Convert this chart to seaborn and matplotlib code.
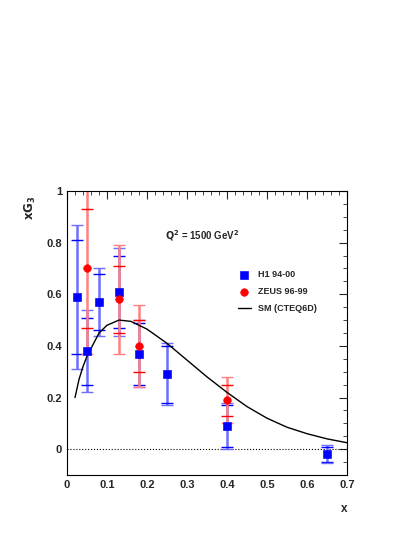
import numpy as np
import pandas as pd
import matplotlib
matplotlib.use("Agg")
import matplotlib.pyplot as plt
import seaborn as sns
from matplotlib.ticker import MultipleLocator

# H1 94-00
h1_x = [0.025, 0.05, 0.08, 0.13, 0.18, 0.25, 0.40, 0.65]
h1_y = [0.59, 0.38, 0.57, 0.61, 0.37, 0.29, 0.09, -0.02]
h1_stat = [0.22, 0.13, 0.11, 0.14, 0.12, 0.11, 0.08, 0.03]
h1_tot = [0.28, 0.16, 0.13, 0.17, 0.13, 0.12, 0.09, 0.035]

# ZEUS 96-99
zeus_x = [0.05, 0.13, 0.18, 0.40]
zeus_y = [0.70, 0.58, 0.40, 0.19]
zeus_stat = [0.23, 0.13, 0.10, 0.06]
zeus_tot = [0.33, 0.21, 0.16, 0.09]

# SM (CTEQ6D)
sm_x = [0.02, 0.03, 0.04, 0.05, 0.06, 0.08, 0.10, 0.13, 0.16, 0.20, 0.25, 0.30,
        0.35, 0.40, 0.45, 0.50, 0.55, 0.60, 0.65, 0.70]
sm_y = [0.20, 0.27, 0.32, 0.36, 0.39, 0.45, 0.48, 0.50, 0.495, 0.465, 0.41, 0.345,
        0.28, 0.22, 0.165, 0.12, 0.085, 0.06, 0.04, 0.025]

sns.set_style("white")
plt.rcParams['font.family'] = ['Liberation Sans', 'DejaVu Sans']

fig = plt.figure(figsize=(4.15, 5.37), dpi=100)
ax = fig.add_axes([67 / 415, 1 - 475 / 537, 280 / 415, 284 / 537])

ax.axhline(0, color="black", ls=":", lw=0.8)

def draw_set(xs, ys, stat, tot, col, light, marker, label):
    # total error as lighter bar, stat error with tick marks
    ax.errorbar(xs, ys, yerr=tot, fmt="none", ecolor=light, elinewidth=1.8, capsize=0)
    ax.errorbar(xs, ys, yerr=stat, fmt="none", ecolor=col, elinewidth=0, capsize=4, capthick=1)
    ax.errorbar(xs, ys, yerr=tot, fmt="none", ecolor=light, elinewidth=0, capsize=4, capthick=1)
    df = pd.DataFrame({"x": xs, "y": ys})
    sns.scatterplot(data=df, x="x", y="y", ax=ax, color=col, marker=marker, s=30,
                    edgecolor=col, label=label, legend=False, zorder=5)

draw_set(h1_x, h1_y, h1_stat, h1_tot, "#0000ff", "#6f6fff", "s", "H1 94-00")
draw_set(zeus_x, zeus_y, zeus_stat, zeus_tot, "#ff0000", "#ff8080", "o", "ZEUS 96-99")

sm = pd.DataFrame({"x": sm_x, "y": sm_y})
sns.lineplot(data=sm, x="x", y="y", ax=ax, color="black", lw=1, label="SM (CTEQ6D)", legend=False)

ax.set_xlim(0, 0.7)
ax.set_ylim(-0.1, 1.0)
ax.xaxis.set_minor_locator(MultipleLocator(0.02))
ax.yaxis.set_minor_locator(MultipleLocator(0.05))
ax.tick_params(which="both", direction="in", top=True, right=True, labelsize=8)
ax.tick_params(which="major", length=6)
ax.tick_params(which="minor", length=3)
ax.set_xticks([0, 0.1, 0.2, 0.3, 0.4, 0.5, 0.6, 0.7])
ax.set_xticklabels(["0", "0.1", "0.2", "0.3", "0.4", "0.5", "0.6", "0.7"], fontweight="bold")
ax.set_yticks([0, 0.2, 0.4, 0.6, 0.8, 1.0])
ax.set_yticklabels(["0", "0.2", "0.4", "0.6", "0.8", "1"], fontweight="bold")
for s in ax.spines.values():
    s.set_color("black")
    s.set_linewidth(0.8)

ax.set_xlabel("")
ax.set_ylabel("")
fig.text(30 / 415, 1 - 196 / 537, r"$\mathbf{xG_3}$", rotation=90, fontsize=8.5, ha="center", va="top")
fig.text(347 / 415, 1 - 509 / 537, "x", fontsize=8.5, fontweight="bold", ha="right", va="center")
ax.text(0.35, 0.83, r"$\mathbf{Q^2}$ = 1500 GeV$^{\mathbf{2}}$", transform=ax.transAxes,
        fontsize=7, fontweight="bold")

ax.legend(loc="upper left", bbox_to_anchor=(0.58, 0.75), frameon=False,
          prop={"weight": "bold", "size": 6.5}, handlelength=1.5, labelspacing=0.9)

fig.savefig("out.png", dpi=100)
